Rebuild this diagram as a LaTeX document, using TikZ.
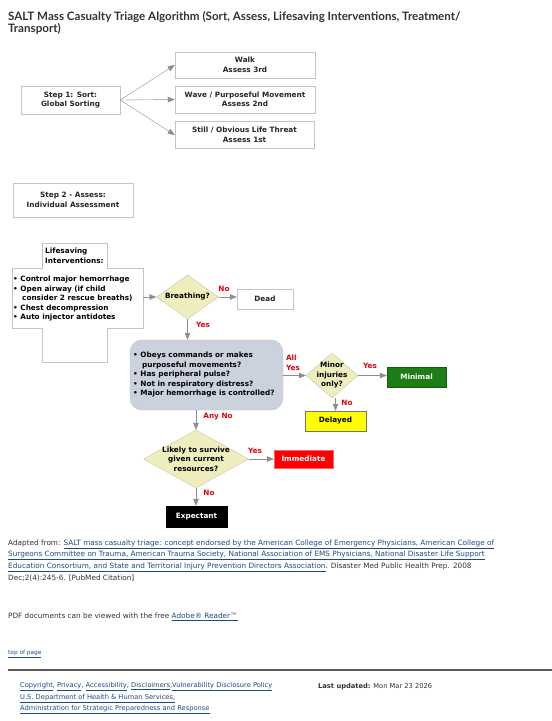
\documentclass[tikz,border=0pt]{standalone}
\usepackage{fontspec}
\setmainfont{DejaVu Sans}
\newfontfamily\titlefont{Lato}
\usetikzlibrary{arrows.meta,shapes.geometric}
\definecolor{boxline}{HTML}{C4C4C4}
\definecolor{arrgray}{HTML}{8E8E8E}
\definecolor{diamfill}{HTML}{EDEDBD}
\definecolor{diamline}{HTML}{C9C9A6}
\definecolor{assessfill}{HTML}{CBD2DE}
\definecolor{ansred}{HTML}{E3000F}
\definecolor{minimalgreen}{HTML}{1F7D17}
\definecolor{delayedyellow}{HTML}{FFFF00}
\definecolor{immediatered}{HTML}{FF0000}
\definecolor{bodytext}{HTML}{333333}
\definecolor{linkblue}{HTML}{1D4A86}
\newcommand{\dfont}{\fontsize{7.3}{9.5}\selectfont\bfseries}
\newcommand{\cfont}{\fontsize{7.3}{8}\selectfont}
\newcommand{\ffont}{\fontsize{6.7}{7}\selectfont}
\newcommand{\lnk}[1]{\textcolor{linkblue}{\underline{#1}}}
\newcommand{\indnt}{\mbox{}\hspace{9pt}}
\begin{document}
\begin{tikzpicture}
		[x=1pt,y=-1pt,
			sortbox/.style={draw=boxline,fill=white,font=\dfont,align=center,inner sep=0pt,text=black!85},
			decision/.style={diamond,draw=diamline,fill=diamfill,inner sep=0pt},
			dtext/.style={font=\dfont,align=center,inner sep=0pt},
			outcome/.style={draw=#1!70!black,fill=#1,font=\dfont,text=white,inner sep=0pt,minimum height=20pt},
			arr/.style={draw=arrgray,-{Triangle[length=7pt,width=5.5pt]}},
			answer/.style={text=ansred,font=\dfont,inner sep=0pt},
			txt/.style={anchor=west,inner sep=0pt,font=\cfont,text=bodytext}]
	\useasboundingbox[fill=white] (0,0) rectangle (552,721);
	% title
	\node[anchor=west,inner sep=0pt,text=bodytext,font=\titlefont\fontsize{11.6}{12}\selectfont\bfseries,align=left,name=title] at (8,23)
		{SALT Mass Casualty Triage Algorithm (Sort, Assess, Lifesaving Interventions, Treatment/\\Transport)};
	% step 1
	\node[sortbox,minimum width=99pt,minimum height=28pt,name=sort] at (70.5,100) {Step 1: Sort:\\Global Sorting};
	\node[sortbox,minimum width=140pt,minimum height=26pt,name=walk] at (245,65) {Walk\\Assess 3rd};
	\node[sortbox,minimum width=140pt,minimum height=27pt,name=wave] at (245,99.5) {Wave / Purposeful Movement\\Assess 2nd};
	\node[sortbox,minimum width=139pt,minimum height=27pt,name=still] at (244.5,135) {Still / Obvious Life Threat\\Assess 1st};
	\foreach \t in {walk,wave,still}
	{
		\draw[arr] (sort.east) -- (\t.west);
	}
	% step 2
	\node[sortbox,minimum width=120pt,minimum height=34pt,name=assess] at (73,200) {Step 2 - Assess:\\Individual Assessment};
	\draw[draw=boxline,fill=white] (42,243) -- (107,243) -- (107,268) -- (143,268) -- (143,328) -- (107,328)
		-- (107,362) -- (42,362) -- (42,328) -- (12,328) -- (12,268) -- (42,268) -- cycle;
	\node[anchor=north west,inner sep=0pt,font=\dfont,align=left,name=lsi] at (45,248) {Lifesaving\\Interventions:};
	\node[anchor=north west,inner sep=0pt,font=\dfont,align=left,name=lsilist] at (13,276)
		{• Control major hemorrhage\\• Open airway (if child\\\indnt consider 2 rescue breaths)\\• Chest decompression\\• Auto injector antidotes};
	\coordinate (lsiout) at (143,297);
	\node[decision,minimum width=62pt,minimum height=44pt,name=breath] at (187.5,297) {};
	\node[dtext,name=breathtxt] at (breath) {Breathing?};
	\node[sortbox,minimum width=56pt,minimum height=20pt,name=dead] at (265,299) {Dead};
	\node[draw=boxline,fill=assessfill,rounded corners=12pt,minimum width=153pt,minimum height=70pt,name=checks] at (206.5,375) {};
	\node[anchor=north west,inner sep=0pt,font=\dfont,align=left,name=checklist] at (133,352)
		{• Obeys commands or makes\\\indnt purposeful movements?\\• Has peripheral pulse?\\• Not in respiratory distress?\\• Major hemorrhage is controlled?};
	\node[decision,minimum width=52pt,minimum height=45pt,name=minor] at (332,375.5) {};
	\node[dtext,name=minortxt] at (minor) {Minor\\injuries\\only?};
	\node[outcome=minimalgreen,minimum width=59pt,name=minimal] at (416.5,377) {Minimal};
	\node[outcome=delayedyellow,text=black,draw=black!55,minimum width=61pt,name=delayed] at (335.5,421) {Delayed};
	\node[decision,minimum width=105pt,minimum height=58pt,name=likely] at (196,459) {};
	\node[dtext,name=likelytxt] at (likely) {Likely to survive\\given current\\resources?};
	\node[outcome=immediatered,draw=red!60,minimum width=59pt,minimum height=18pt,name=immediate] at (303.5,459) {Immediate};
	\node[outcome=black,minimum width=61pt,minimum height=21pt,name=expectant] at (196.5,516.5) {Expectant};
	% connectors
	\draw[arr] (lsiout) -- (breath.west);
	\draw[arr] (breath.east) -- (dead.west |- breath.east);
	\draw[arr] (breath.south) -- (breath.south |- checks.north);
	\draw[arr] (checks.east |- minor.west) -- (minor.west);
	\draw[arr] (minor.east) -- (minor.east -| minimal.west);
	\draw[arr] (minor.south -| delayed.north) -- (delayed.north);
	\draw[arr] (likely.north |- checks.south) -- (likely.north);
	\draw[arr] (likely.east) -- (likely.east -| immediate.west);
	\draw[arr] (likely.south) -- (likely.south |- expectant.north);
	% answers
	\node[answer,name=a1] at (224,289) {No};
	\node[answer,name=a2] at (203,325) {Yes};
	\node[answer,align=left,name=a3] at (293,363) {All\\Yes};
	\node[answer,name=a4] at (370,366) {Yes};
	\node[answer,name=a5] at (347,403) {No};
	\node[answer,name=a6] at (218,417) {Any No};
	\node[answer,name=a7] at (255,450.5) {Yes};
	\node[answer,name=a8] at (209,493) {No};
	% citation
	\node[txt,name=c1] at (8,544.5) {Adapted from: \lnk{SALT mass casualty triage: concept endorsed by the American College of Emergency Physicians, American College of}};
	\node[txt,name=c2] at (8,555.5) {\lnk{Surgeons Committee on Trauma, American Trauma Society, National Association of EMS Physicians, National Disaster Life Support}};
	\node[txt,name=c3] at (8,567) {\lnk{Education Consortium, and State and Territorial Injury Prevention Directors Association}. Disaster Med Public Health Prep. 2008};
	\node[txt,name=c4] at (8,578) {Dec;2(4):245-6. [PubMed Citation]};
	\node[txt,name=pdf] at (8,617) {PDF documents can be viewed with the free \lnk{Adobe® Reader™}};
	\node[txt,font=\fontsize{5.8}{6}\selectfont,name=top] at (8,654) {\lnk{top of page}};
	\draw[line width=2pt,draw=black!65] (8,670) -- (552,670);
	% footer
	\node[txt,font=\ffont,name=f1] at (20,687) {\lnk{Copyright}, \lnk{Privacy}, \lnk{Accessibility}, \lnk{Disclaimers},\lnk{Vulnerability Disclosure Policy}};
	\node[txt,font=\ffont,name=f2] at (20,699) {\lnk{U.S. Department of Health \& Human Services,}};
	\node[txt,font=\ffont,name=f3] at (20,710) {\lnk{Administration for Strategic Preparedness and Response}};
	\node[txt,font=\ffont,name=upd] at (318,687) {\textbf{Last updated:} Mon Mar 23 2026};
\end{tikzpicture}
\end{document}
